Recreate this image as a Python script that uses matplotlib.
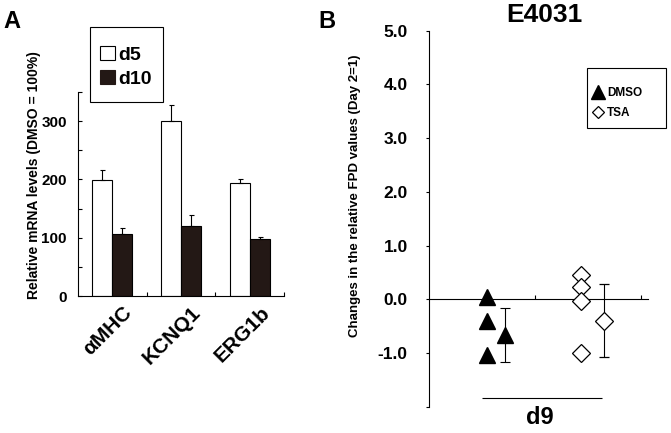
import numpy as np
import matplotlib
matplotlib.use('Agg')
import matplotlib.pyplot as plt
from matplotlib.ticker import MultipleLocator

plt.rcParams['font.family'] = ['Liberation Sans', 'DejaVu Sans']
plt.rcParams['font.weight'] = 'bold'

# panel A data
genes = ['αMHC', 'KCNQ1', 'ERG1b']
d5_mean = [199, 301, 194]
d5_err = [17, 26, 6]
d10_mean = [106, 120, 98]
d10_err = [10, 19, 4]

# panel B data
dmso_points = [0.05, -0.40, -1.04]
dmso_mean, dmso_sd = -0.66, 0.50
tsa_points = [0.45, 0.22, -0.04, -1.00]
tsa_mean, tsa_sd = -0.40, 0.68
x_dmso, x_dmso_mean = 0.55, 0.72
x_tsa, x_tsa_mean = 1.43, 1.65

dark = '#231815'
W, H = 671, 433


def fx(px):
    return px / W


def fy(px):
    return 1 - px / H


def box(x0, y0, x1, y1):
    # legend frame drawn in figure pixels
    fig.add_artist(plt.Rectangle((fx(x0), fy(y1)), fx(x1) - fx(x0), fy(y0) - fy(y1),
                                 transform=fig.transFigure, fc='white', ec='black', lw=0.8, zorder=4))


fig = plt.figure(figsize=(6.71, 4.33), dpi=100)

# ---- panel A ----
axA = fig.add_axes([fx(78), fy(296), fx(206), 204 / H])
x = np.arange(len(genes))
w = 0.29
ekw = dict(ecolor='black', elinewidth=0.8, capsize=1.8, capthick=0.8)
axA.bar(x - w / 2, d5_mean, w, color='white', edgecolor='black', linewidth=0.8,
        yerr=[np.zeros(3), d5_err], error_kw=ekw)
axA.bar(x + w / 2, d10_mean, w, color=dark, edgecolor='black', linewidth=0.8,
        yerr=[np.zeros(3), d10_err], error_kw=ekw)
axA.set_xlim(-0.5, 2.5)
axA.set_ylim(0, 350)
for s in ['top', 'right']:
    axA.spines[s].set_visible(False)
for s in ['left', 'bottom']:
    axA.spines[s].set_linewidth(0.8)
axA.set_yticks([0, 100, 200, 300])
axA.yaxis.set_minor_locator(MultipleLocator(50))
axA.tick_params(axis='y', which='both', direction='in', length=3, width=0.8, labelsize=11, pad=8)
axA.set_xticks([0.5, 1.5, 2.5])
axA.set_xticklabels([])
axA.tick_params(axis='x', direction='in', length=3, width=0.8)
for i, g in enumerate(genes):
    axA.text(i + 0.15, -12, g, rotation=45, ha='right', va='top', rotation_mode='anchor',
             fontsize=15, fontweight='bold')

box(90, 27, 163, 102)
legA = fig.legend(handles=[plt.Rectangle((0, 0), 1, 1, fc='white', ec='black', lw=0.8),
                           plt.Rectangle((0, 0), 1, 1, fc=dark, ec=dark, lw=0.8)],
                  labels=['d5', 'd10'], loc='center', bbox_to_anchor=(fx(126), fy(67)),
                  borderaxespad=0, borderpad=0, frameon=False,
                  prop=dict(size=14, weight='bold'), handlelength=0.75,
                  handleheight=0.75, handletextpad=0.2, labelspacing=0.3)
legA.set_zorder(5)

fig.text(fx(34.5), fy(175), 'Relative mRNA levels (DMSO = 100%)', rotation=90,
         ha='center', va='center', fontsize=10, fontweight='bold')
fig.text(fx(3), fy(22), 'A', ha='left', va='center', fontsize=17, fontweight='bold')

# ---- panel B ----
axB = fig.add_axes([fx(429), fy(406.7), fx(219), 376 / H])
axB.set_xlim(0, 2.066)
axB.set_ylim(-2, 5)
for s in ['top', 'right']:
    axB.spines[s].set_visible(False)
axB.spines['bottom'].set_position(('data', 0))
for s in ['left', 'bottom']:
    axB.spines[s].set_linewidth(0.8)
axB.set_yticks(np.arange(-2, 6, 1))
axB.set_yticklabels([''] + [f'{v:.1f}' for v in np.arange(-1, 6, 1)])
axB.tick_params(axis='y', direction='out', length=2.5, width=0.8, labelsize=12.5, pad=12.8)
axB.set_xticks([1, 2])
axB.set_xticklabels([])
axB.tick_params(axis='x', direction='in', length=3, width=0.8)

axB.plot([x_dmso] * len(dmso_points), dmso_points, linestyle='none', marker='^',
         markersize=12, color='black', clip_on=False, zorder=3)
axB.errorbar([x_dmso_mean], [dmso_mean], yerr=[dmso_sd], fmt='^', markersize=12, color='black',
             ecolor='black', elinewidth=0.8, capsize=3.3, capthick=0.8, zorder=3)
axB.plot([x_tsa] * len(tsa_points), tsa_points, linestyle='none', marker='D', markersize=9,
         markerfacecolor='white', markeredgecolor='black', markeredgewidth=0.9, zorder=3)
axB.errorbar([x_tsa_mean], [tsa_mean], yerr=[tsa_sd], fmt='D', markersize=9,
             markerfacecolor='white', markeredgecolor='black', markeredgewidth=0.9,
             ecolor='black', elinewidth=0.8, capsize=3.3, capthick=0.8, zorder=3)
axB.hlines(-1.83, 0.5, 1.63, color='black', linewidth=0.8)

box(587, 68, 666, 128)
hB = [plt.Line2D([], [], linestyle='none', marker='^', markersize=10, color='black'),
      plt.Line2D([], [], linestyle='none', marker='D', markersize=6.5, markerfacecolor='white',
                 markeredgecolor='black', markeredgewidth=0.9)]
legB = fig.legend(handles=hB, labels=['DMSO', 'TSA'], loc='center',
                  bbox_to_anchor=(fx(617), fy(103)), borderaxespad=0, borderpad=0,
                  frameon=False, prop=dict(size=8.5, weight='bold'), handlelength=1.0,
                  handletextpad=0.3, labelspacing=0.7)
legB.set_zorder(5)

fig.text(fx(544), fy(14.5), 'E4031', ha='center', va='center', fontsize=19, fontweight='bold')
fig.text(fx(540), fy(418), 'd9', ha='center', va='center', fontsize=17, fontweight='bold')
fig.text(fx(355), fy(196), 'Changes in the relative FPD values (Day 2=1)', rotation=90,
         ha='center', va='center', fontsize=9.5, fontweight='bold')
fig.text(fx(318), fy(22), 'B', ha='left', va='center', fontsize=17, fontweight='bold')

fig.savefig('out.png', dpi=100)
